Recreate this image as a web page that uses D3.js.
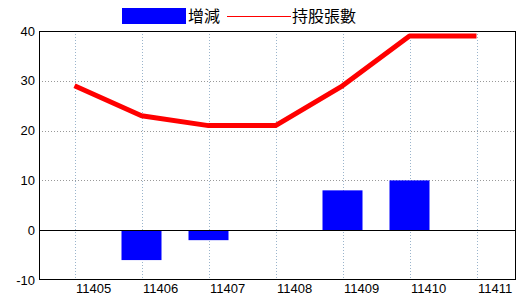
<!DOCTYPE html>
<html>
<head>
<meta charset="utf-8">
<script src="https://cdn.jsdelivr.net/npm/d3@7"></script>
<style>
body { margin: 0; background: #fff; }
</style>
</head>
<body>
<script>
const months = ['11405', '11406', '11407', '11408', '11409', '11410', '11411'];
const change = [0, -6, -2, 0, 8, 10, null];
const holders = [29, 23, 21, 21, 29, 39, 39];
const yTicks = [-10, 0, 10, 20, 30, 40];

const width = 520, height = 300;
const plot = { left: 39, right: 516, top: 31, bottom: 280 };

const svg = d3.select('body').append('svg')
    .attr('width', width)
    .attr('height', height)
    .style('font-family', '"Liberation Sans Narrow", "Liberation Sans", Arial, sans-serif');

const x = d3.scalePoint().domain(months).range([74.5, 476.5]);
const y = d3.scaleLinear().domain([-10, 40]).range([plot.bottom, plot.top]);

// Grid lines
svg.append('g')
    .selectAll('line')
    .data(yTicks.filter(d => d !== 0 && d !== -10 && d !== 40))
    .enter().append('line')
    .attr('x1', plot.left).attr('x2', plot.right)
    .attr('y1', d => Math.round(y(d)) + 0.5).attr('y2', d => Math.round(y(d)) + 0.5)
    .attr('stroke', '#999')
    .attr('stroke-dasharray', '1,2');

svg.append('g')
    .selectAll('line')
    .data(months)
    .enter().append('line')
    .attr('x1', d => Math.round(x(d)) + 0.5).attr('x2', d => Math.round(x(d)) + 0.5)
    .attr('y1', plot.top).attr('y2', plot.bottom)
    .attr('stroke', '#9ab4cc')
    .attr('stroke-dasharray', '1,2');

// Bars
const barW = 40;
svg.append('g')
    .selectAll('rect')
    .data(months.map((m, i) => ({ m, v: change[i] })).filter(d => d.v))
    .enter().append('rect')
    .attr('x', d => x(d.m) - barW / 2)
    .attr('width', barW)
    .attr('y', d => y(Math.max(0, d.v)))
    .attr('height', d => Math.abs(y(d.v) - y(0)))
    .attr('fill', '#0000ff');

// Zero line
svg.append('line')
    .attr('x1', plot.left).attr('x2', plot.right)
    .attr('y1', Math.round(y(0)) + 0.5).attr('y2', Math.round(y(0)) + 0.5)
    .attr('stroke', '#000');

// Holders line
const line = d3.line().x((d, i) => x(months[i])).y(d => y(d));
svg.append('path')
    .datum(holders)
    .attr('d', line)
    .attr('fill', 'none')
    .attr('stroke', '#ff0000')
    .attr('stroke-width', 5)
    .attr('stroke-linejoin', 'round');

// Frame
svg.append('rect')
    .attr('x', plot.left + 0.5).attr('y', plot.top + 0.5)
    .attr('width', plot.right - plot.left - 1)
    .attr('height', plot.bottom - plot.top - 1)
    .attr('fill', 'none')
    .attr('stroke', '#000');

// Y labels
svg.append('g')
    .selectAll('text')
    .data(yTicks)
    .enter().append('text')
    .attr('x', 35)
    .attr('y', d => y(d))
    .attr('dy', '0.35em')
    .attr('text-anchor', 'end')
    .style('font-size', '13px')
    .text(d => d);

// X labels (start just right of each grid line)
svg.append('g')
    .selectAll('text')
    .data(months)
    .enter().append('text')
    .attr('x', d => x(d) + 1.5)
    .attr('y', 293)
    .attr('text-anchor', 'start')
    .style('font-size', '13px')
    .text(d => d);

// Legend
const legend = svg.append('g').style('font-family', '"Noto Sans CJK TC", sans-serif').style('font-size', '16px');
legend.append('rect').attr('x', 122).attr('y', 8).attr('width', 64).attr('height', 16).attr('fill', '#0000ff');
legend.append('text').attr('x', 188).attr('y', 22).text('增減');
legend.append('line').attr('x1', 227).attr('x2', 291).attr('y1', 16.5).attr('y2', 16.5).attr('stroke', '#ff0000');
legend.append('text').attr('x', 292).attr('y', 22).text('持股張數');
</script>
</body>
</html>
